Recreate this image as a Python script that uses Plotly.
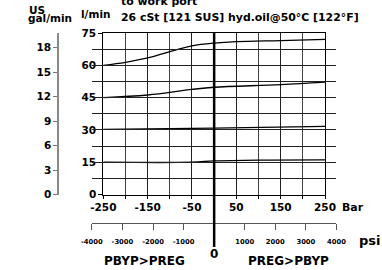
import plotly.graph_objects as go

# ---- data ----
bar_ticks = [-250, -150, -50, 50, 150, 250]
bar_labels = ["-250", "-150", "-50", "50", "150", "250"]
lpm_ticks = [0, 15, 30, 45, 60, 75]
gpm_ticks = [0, 3, 6, 9, 12, 15, 18]
psi_ticks = [-4000, -3000, -2000, -1000, 1000, 2000, 3000, 4000]
psi_labels = ["-4000", "-3000", "-2000", "-1000", "1000", "2000", "3000", "4000"]

c75_x = [-250, -200, -150, -100, -50, 0, 50, 150, 250]
c75_y = [60.0, 61.4, 63.4, 66.4, 69.0, 70.3, 71.0, 71.5, 72.0]
c60_x = [-250, -150, -50, 0, 150, 250]
c60_y = [45.0, 46.2, 48.8, 49.8, 51.0, 52.2]
c45_x = [-250, 0, 250]
c45_y = [30.2, 30.8, 31.6]
c30_x = [-250, -50, 0, 100, 250]
c30_y = [15.0, 15.0, 15.6, 16.0, 16.1]

LPM_PER_GAL = 3.78541
BAR_TO_PSI = 14.5038

# ---- layout geometry (pixels) ----
W, H = 382, 270
ML, MR, MT, MB = 40, 42, 33, 20
PW, PH = W - ML - MR, H - MT - MB


def px(x):
    return (x - ML) / PW


def py(y):
    return (H - MB - y) / PH


plot_left, plot_right, plot_bottom = 103.3, 325.0, 194.5
zero_px = (plot_left + plot_right) / 2
px_per_bar = (plot_right - plot_left) / 500
half_psi_px = 4000 / BAR_TO_PSI * px_per_bar

FONT = "DejaVu Sans"
def bold(size):
    return dict(family=FONT, size=size, color="black", weight=700)

fig = go.Figure()
for xs, ys in [(c75_x, c75_y), (c60_x, c60_y), (c45_x, c45_y), (c30_x, c30_y)]:
    fig.add_trace(go.Scatter(x=xs, y=ys, mode="lines", line=dict(color="black", width=1.3, shape="spline"),
                             showlegend=False, hoverinfo="skip"))
# empty traces to register the secondary axes
fig.add_trace(go.Scatter(x=[], y=[], xaxis="x2", yaxis="y", showlegend=False))
fig.add_trace(go.Scatter(x=[], y=[], xaxis="x", yaxis="y2", showlegend=False))

grid = dict(showgrid=True, gridcolor="#222", gridwidth=1)
fig.update_layout(
    width=W, height=H, margin=dict(l=ML, r=MR, t=MT, b=MB, autoexpand=False),
    paper_bgcolor="white", plot_bgcolor="rgba(0,0,0,0)",
    font=bold(10.5),
    xaxis=dict(domain=[px(plot_left), px(plot_right)], range=[-250, 250], anchor="y",
               tickmode="array", tickvals=bar_ticks, ticktext=bar_labels, ticks="outside", ticklen=3,
               tickcolor="black",
               showline=True, linecolor="black", linewidth=1, zeroline=False, mirror=True,
               tickfont=bold(10.5),
               minor=dict(tickmode="linear", tick0=-250, dtick=50, ticks="outside", ticklen=3,
                          tickcolor="black", showgrid=True, gridcolor="#444", gridwidth=1),
               **grid),
    yaxis=dict(domain=[py(plot_bottom), 1], range=[0, 75], anchor="x",
               tickmode="array", tickvals=lpm_ticks, ticks="outside", ticklen=4, tickcolor="black",
               showline=True, linecolor="black", linewidth=1, zeroline=False, mirror=True,
               tickfont=bold(10.5),
               minor=dict(tickmode="linear", tick0=0, dtick=7.5, showgrid=True, gridcolor="#222", gridwidth=1),
               **grid),
    yaxis2=dict(overlaying="y", anchor="free", position=px(58.3), side="left",
                range=[0, 75 / LPM_PER_GAL], tickmode="array", tickvals=gpm_ticks,
                ticks="outside", ticklen=4, tickcolor="#777", showline=True, linecolor="#888",
                linewidth=2, showgrid=False, zeroline=False, tickfont=bold(10.5)),
    xaxis2=dict(domain=[px(zero_px - half_psi_px), px(zero_px + half_psi_px)], range=[-4000, 4000],
                anchor="free", position=py(222.7), side="bottom",
                tickmode="array", tickvals=psi_ticks, ticktext=psi_labels,
                ticks="outside", ticklen=6, tickcolor="#555", showline=True, linecolor="#555",
                linewidth=1, showgrid=False, zeroline=False, tickfont=bold(6.8),
                ticklabelstandoff=6),
)

fig.add_shape(type="line", xref="x", yref="paper", x0=0, x1=0, y0=py(247), y1=1,
              line=dict(color="black", width=2.5))

def ann(text, x, y, size=10.5, xanchor="center"):
    fig.add_annotation(text="<b>" + text + "</b>", x=px(x), y=py(y), xref="paper", yref="paper",
                       showarrow=False, xanchor=xanchor, yanchor="middle", font=bold(size))

ann("US", 27, 10.0, xanchor="left")
ann("gal/min", 26, 18.5, xanchor="left")
ann("l/min", 95.5, 14.5)
ann("to work port", 119, 1.3, size=10.9, xanchor="left")
ann("26 cSt [121 SUS] hyd.oil@50°C [122°F]", 119, 17, size=10.9, xanchor="left")
ann("Bar", 353, 207, size=10.9)
ann("psi", 370, 240, size=13)
ann("0", 214, 254, size=12)
ann("PBYP&gt;PREG", 144, 261, size=12)
ann("PREG&gt;PBYP", 288.5, 261, size=12)

fig.write_html("out.html", config={"displayModeBar": False},
               post_script="document.body.style.margin='0';document.body.style.overflow='hidden';")
